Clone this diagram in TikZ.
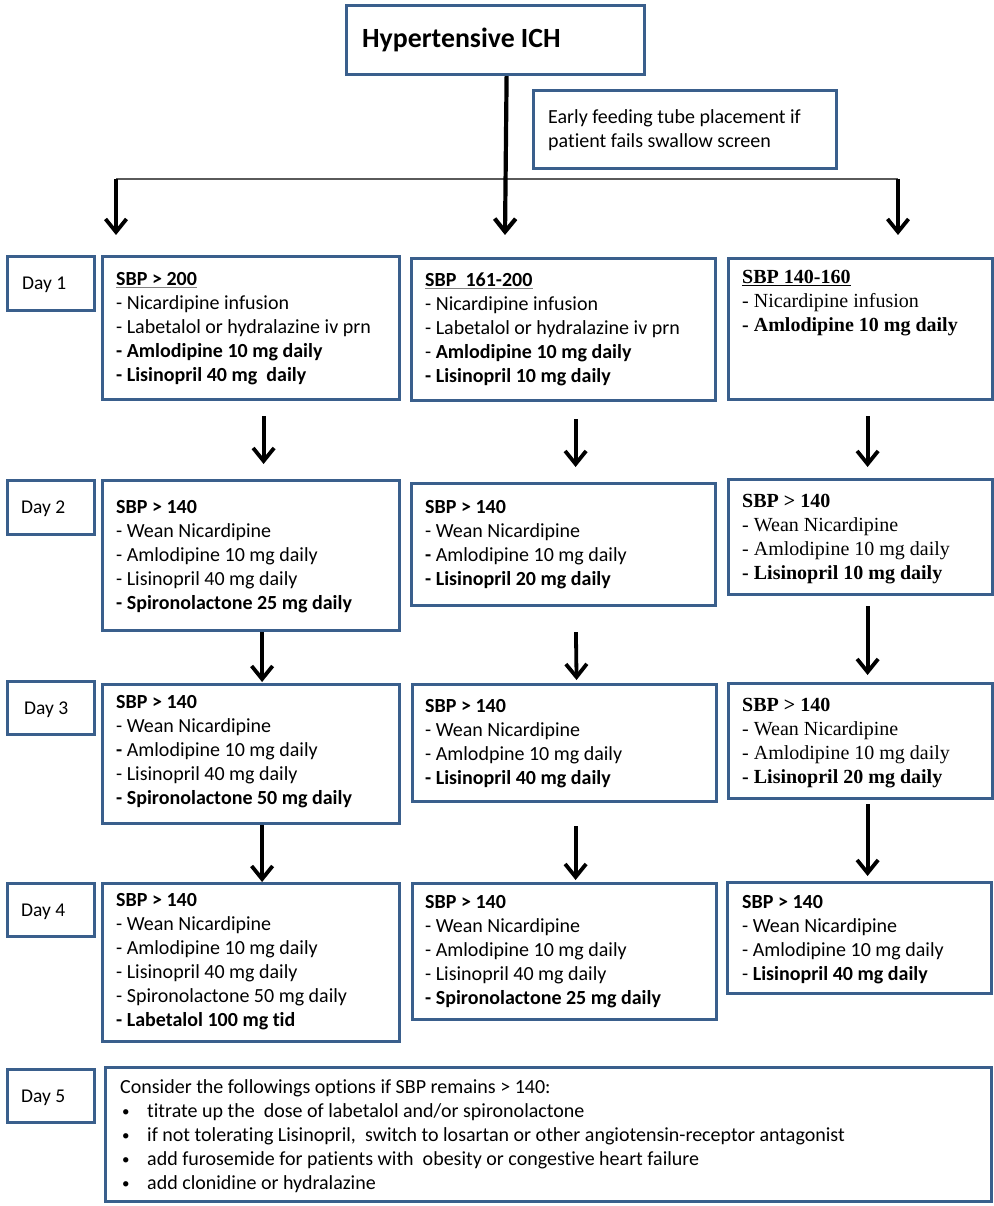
\documentclass[tikz,border=0pt]{standalone}
\usepackage{fontspec}
\setmainfont{Carlito}[Ligatures=NoCommon]
\newfontfamily\timesf{Liberation Serif}
\usetikzlibrary{arrows.meta,calc}
\definecolor{boxblue}{RGB}{58,95,140}
\definecolor{hlgray}{RGB}{90,90,90}
\newcommand\ulx[2]{\setbox0\hbox{#2}\rlap{\color{#1}\rule[-3pt]{\wd0}{1.3pt}}\box0}
\newcommand\bul{\hspace*{2pt}\makebox[25pt][l]{\raisebox{1pt}{\fontsize{15}{15}\selectfont\textbullet}}}
\begin{document}
\begin{tikzpicture}[x=1pt,y=-1pt,
  box/.style={draw=boxblue, line width=3.2pt, rectangle, inner sep=0pt, anchor=north west},
  txt/.style={font=\fontsize{20}{24.1}\selectfont, align=left, inner sep=0pt, anchor=north west},
  ttxt/.style={font=\timesf\fontsize{20}{24.1}\selectfont, align=left, inner sep=0pt, anchor=north west},
  daytxt/.style={font=\fontsize{19.5}{24.1}\selectfont, inner sep=0pt, anchor=base west},
  arr/.style={line width=3.8pt, -{Straight Barb[length=13pt,width=21pt]}},
  hline/.style={draw=hlgray, line width=1.8pt},
]
\useasboundingbox (0,0) rectangle (993,1206);

% top boxes
\node[box, minimum width=298, minimum height=69] (title) at (345,4) {};
\node[inner sep=0pt, anchor=base west, font=\bfseries\fontsize{27.8}{33}\selectfont] (titlet) at (362,48) {Hypertensive ICH};
\node[box, minimum width=303, minimum height=78] (feed) at (532,89) {};
\node[txt, font=\fontsize{20}{24}\selectfont] (feedt) at (548,106.2) {\strut Early feeding tube placement if\\ patient fails swallow screen};

% day labels
\node[box, minimum width=87, minimum height=54] (d1) at (6,255) {};
\node[box, minimum width=87, minimum height=54] (d2) at (6,479) {};
\node[box, minimum width=87, minimum height=53] (d3) at (6,680) {};
\node[box, minimum width=87, minimum height=53] (d4) at (6,882) {};
\node[box, minimum width=87, minimum height=53] (d5) at (6,1068) {};
\node[daytxt] (d1t) at (22,289) {Day 1};
\node[daytxt] (d2t) at (21,513) {Day 2};
\node[daytxt] (d3t) at (24,714) {Day 3};
\node[daytxt] (d4t) at (21,916) {Day 4};
\node[daytxt] (d5t) at (21,1102) {Day 5};

% column 1
\node[box, minimum width=297, minimum height=143] (c1d1) at (101,255) {};
\node[box, minimum width=297, minimum height=150] (c1d2) at (101,479) {};
\node[box, minimum width=297, minimum height=139] (c1d3) at (101,683) {};
\node[box, minimum width=297, minimum height=158] (c1d4) at (101,882) {};
\node[txt] (c1d1t) at (116,268.1) {\strut\ulx{gray}{\textbf{SBP > 200}}\\ - Nicardipine infusion\\ - Labetalol or hydralazine iv prn\\ \textbf{- Amlodipine 10 mg daily}\\ \textbf{- Lisinopril 40 mg\ \ daily}};
\node[txt] (c1d2t) at (116,496.1) {\strut\textbf{SBP > 140}\\ - Wean Nicardipine\\ - Amlodipine 10 mg daily\\ - Lisinopril 40 mg daily\\ \textbf{- Spironolactone 25 mg daily}};
\node[txt] (c1d3t) at (116,691.1) {\strut\textbf{SBP > 140}\\ - Wean Nicardipine\\ \textbf{-} Amlodipine 10 mg daily\\ - Lisinopril 40 mg daily\\ \textbf{- Spironolactone 50 mg daily}};
\node[txt] (c1d4t) at (116,889.1) {\strut\textbf{SBP > 140}\\ - Wean Nicardipine\\ - Amlodipine 10 mg daily\\ - Lisinopril 40 mg daily\\ - Spironolactone 50 mg daily\\ \textbf{- Labetalol 100 mg tid}};

% column 2
\node[box, minimum width=304, minimum height=142] (c2d1) at (410,257) {};
\node[box, minimum width=304, minimum height=122] (c2d2) at (410,482) {};
\node[box, minimum width=304, minimum height=117] (c2d3) at (411,683) {};
\node[box, minimum width=304, minimum height=136] (c2d4) at (411,882) {};
\node[txt] (c2d1t) at (425,269.1) {\strut\ulx{gray}{\textbf{SBP\ \ 161-200}}\\ - Nicardipine infusion\\ - Labetalol or hydralazine iv prn\\ - \textbf{Amlodipine 10 mg daily}\\ \textbf{- Lisinopril 10 mg daily}};
\node[txt] (c2d2t) at (425,496.1) {\strut\textbf{SBP > 140}\\ - Wean Nicardipine\\ \textbf{-} Amlodipine 10 mg daily\\ \textbf{- Lisinopril 20 mg daily}};
\node[txt] (c2d3t) at (425,695.1) {\strut\textbf{SBP > 140}\\ - Wean Nicardipine\\ - Amlodpine 10 mg daily\\ \textbf{- Lisinopril 40 mg daily}};
\node[txt] (c2d4t) at (425,891.1) {\strut\textbf{SBP > 140}\\ - Wean Nicardipine\\ - Amlodipine 10 mg daily\\ - Lisinopril 40 mg daily\\ \textbf{- Spironolactone 25 mg daily}};

% column 3
\node[box, minimum width=264, minimum height=141] (c3d1) at (727,257) {};
\node[box, minimum width=264, minimum height=115] (c3d2) at (727,478) {};
\node[box, minimum width=264, minimum height=115] (c3d3) at (727,682) {};
\node[box, minimum width=264, minimum height=111] (c3d4) at (726,881) {};
\node[ttxt] (c3d1t) at (742,266.1) {\strut\ulx{black}{\textbf{SBP 140-160}}\\ - Nicardipine infusion\\ \textbf{- Amlodipine 10 mg daily}};
\node[ttxt] (c3d2t) at (742,490.1) {\strut\textbf{SBP > 140}\\ - Wean Nicardipine\\ - Amlodipine 10 mg daily\\ \textbf{- Lisinopril 10 mg daily}};
\node[ttxt] (c3d3t) at (742,694.1) {\strut\textbf{SBP > 140}\\ - Wean Nicardipine\\ - Amlodipine 10 mg daily\\ \textbf{- Lisinopril 20 mg daily}};
\node[txt] (c3d4t) at (742,891.1) {\strut\textbf{SBP > 140}\\ - Wean Nicardipine\\ - Amlodipine 10 mg daily\\ - \textbf{Lisinopril 40 mg daily}};

% day 5
\node[box, minimum width=886, minimum height=134] (day5) at (104,1066) {};
\node[txt] (day5t) at (120,1076.1) {\strut Consider the followings options if SBP remains > 140:\\
\bul titrate up the\ \ dose of labetalol and/or spironolactone\\
\bul if not tolerating Lisinopril,\ \ switch to losartan or other angiotensin-receptor antagonist\\
\bul add furosemide for patients with\ \ obesity or congestive heart failure\\
\bul add clonidine or hydralazine};

% top connectors
\coordinate (hl) at (116,179);
\coordinate (hr) at (898,179);
\coordinate (tl) at (116,235);
\coordinate (tm) at (505,235);
\coordinate (tr) at (898,235);
\draw[hline] (hl) -- (hr);
\draw[arr] (hl) -- (tl);
\draw[arr] (hr) -- (tr);
\draw[arr, line width=4.2pt] ([xshift=11pt]title.south) -- (tm);

% column arrows
\draw[arr, shorten <=15pt, shorten >=15pt] ([xshift=12.5pt]c1d1.south) -- ([xshift=12.5pt]c1d2.north);
\draw[arr, shorten >=1pt] ([xshift=11pt]c1d2.south) -- ([xshift=11pt]c1d3.north);
\draw[arr] ([xshift=11pt]c1d3.south) -- ([xshift=11pt]c1d4.north);

\draw[arr, shorten <=17pt, shorten >=15pt] ([xshift=12pt]c2d1.south) -- ([xshift=12pt]c2d2.north);
\draw[arr, shorten <=25pt, shorten >=3pt] ([xshift=12pt]c2d2.south) -- ([xshift=12pt]c2d3.north);
\draw[arr, shorten <=23pt, shorten >=2pt] ([xshift=11pt]c2d3.south) -- ([xshift=11pt]c2d4.north);

\draw[arr, shorten <=15pt, shorten >=11pt] ([xshift=7pt]c3d1.south) -- ([xshift=7pt]c3d2.north);
\draw[arr, shorten <=10pt, shorten >=7pt] ([xshift=7pt]c3d2.south) -- ([xshift=7pt]c3d3.north);
\draw[arr, shorten <=4pt, shorten >=5pt] ([xshift=7pt]c3d3.south) -- ([xshift=8pt]c3d4.north);
\end{tikzpicture}
\end{document}
